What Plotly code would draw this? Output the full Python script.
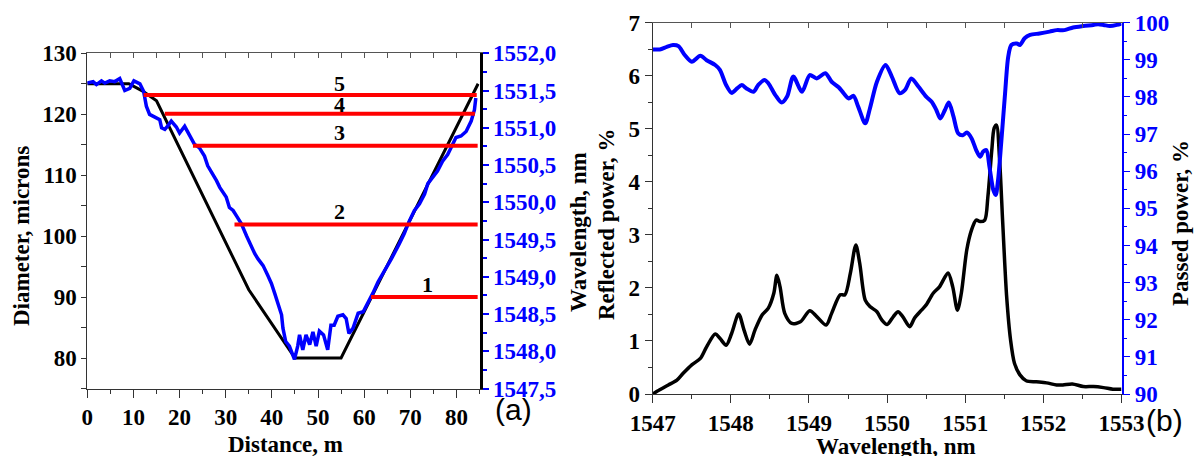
import plotly.graph_objects as go

# ---------------- Panel (a) data ----------------
dist_black = [0, 9, 12, 15, 35, 45, 55, 84.7]
diam_black = [125, 125, 123.8, 122.2, 91.2, 80, 80, 125]

dist_blue = [0, 1.26, 1.98, 3.07, 3.79, 4.87, 5.95, 7.03, 8.12, 9.2, 10.1, 11.4, 12.2, 12.8,
             13.5, 14.6, 15.7, 16.1, 16.8, 17.5, 18.2, 19.3, 20.0, 21.1, 22.2, 23.2, 24.3,
             25.4, 26.1, 27.2, 28.0, 28.7, 29.4, 30.1, 30.8, 31.6, 32.3, 33.4, 34.5, 35.5,
             36.3, 37.0, 38.1, 39.1, 39.9, 40.6, 41.3, 42.1, 42.4, 43.0, 43.8, 44.9, 45.6,
             46.0, 46.7, 47.4, 48.2, 48.9, 49.6, 50.3, 51.2, 52.1, 52.8, 53.5, 54.3, 55.4,
             56.1, 56.7, 57.6, 58.7, 59.8, 60.8, 61.9, 63.0, 64.4, 65.9, 67.6, 68.7, 69.8,
             70.9, 72.0, 73.1, 73.8, 74.8, 75.9, 77.0, 78.1, 78.8, 79.9, 81.0, 82.1, 83.2,
             83.9, 84.2]
wl_blue = [1551.60, 1551.62, 1551.58, 1551.63, 1551.60, 1551.63, 1551.62, 1551.66, 1551.50,
           1551.53, 1551.63, 1551.59, 1551.49, 1551.29, 1551.18, 1551.15, 1551.11, 1551.00,
           1550.98, 1551.03, 1551.09, 1551.01, 1550.93, 1551.02, 1550.89, 1550.78, 1550.73,
           1550.62, 1550.49, 1550.38, 1550.29, 1550.20, 1550.13, 1550.07, 1549.93, 1549.89,
           1549.82, 1549.71, 1549.55, 1549.40, 1549.31, 1549.24, 1549.15, 1549.02, 1548.91,
           1548.78, 1548.64, 1548.49, 1548.31, 1548.13, 1548.07, 1547.89, 1548.07, 1548.22,
           1548.02, 1548.22, 1548.09, 1548.26, 1548.07, 1548.27, 1548.22, 1548.02, 1548.35,
           1548.35, 1548.47, 1548.49, 1548.44, 1548.24, 1548.31, 1548.51, 1548.53, 1548.64,
           1548.78, 1548.93, 1549.07, 1549.24, 1549.44, 1549.58, 1549.75, 1549.89, 1549.98,
           1550.11, 1550.25, 1550.33, 1550.42, 1550.55, 1550.64, 1550.73, 1550.87, 1550.89,
           1550.95, 1551.09, 1551.24, 1551.40]

red_levels = [1548.73, 1549.70, 1550.76, 1551.19, 1551.44]
red_start = [61.5, 31.9, 22.9, 16.8, 12.2]
red_end = [84.6, 84.6, 84.6, 84.0, 84.4]
red_names = ["1", "2", "3", "4", "5"]
red_label_x = [73.8, 54.7, 54.7, 54.7, 54.7]
red_label_wl = [1548.90, 1549.87, 1550.93, 1551.31, 1551.59]

dist_ticks = [0, 10, 20, 30, 40, 50, 60, 70, 80]
diam_ticks = [80, 90, 100, 110, 120, 130]
wl_ticks = [1547.5, 1548.0, 1548.5, 1549.0, 1549.5, 1550.0, 1550.5, 1551.0, 1551.5, 1552.0]
wl_ticklabels = ["1547,5", "1548,0", "1548,5", "1549,0", "1549,5", "1550,0",
                 "1550,5", "1551,0", "1551,5", "1552,0"]

# ---------------- Panel (b) data ----------------
refl_wl = [1547.0, 1547.09, 1547.2, 1547.31, 1547.39, 1547.5, 1547.61, 1547.69, 1547.8, 1547.86,
           1547.94, 1548.01, 1548.1, 1548.17, 1548.24, 1548.31, 1548.4, 1548.48, 1548.55, 1548.59,
           1548.63, 1548.69, 1548.78, 1548.89, 1549.01, 1549.1, 1549.22, 1549.29, 1549.4, 1549.46,
           1549.53, 1549.6, 1549.65, 1549.72, 1549.78, 1549.87, 1549.93, 1550.0, 1550.08, 1550.14,
           1550.2, 1550.29, 1550.35, 1550.44, 1550.5, 1550.59, 1550.67, 1550.78, 1550.84, 1550.9,
           1550.95, 1551.02, 1551.08, 1551.14, 1551.19, 1551.25, 1551.29, 1551.34, 1551.37, 1551.4,
           1551.44, 1551.48, 1551.53, 1551.58, 1551.63, 1551.7, 1551.78, 1551.91, 1552.04, 1552.17,
           1552.25, 1552.37, 1552.51, 1552.64, 1552.77, 1552.89, 1553.0]
refl_power = [0.0, 0.08, 0.17, 0.26, 0.39, 0.55, 0.67, 0.89, 1.13, 1.05,
              0.92, 1.14, 1.51, 1.2, 0.94, 1.21, 1.49, 1.62, 1.9, 2.24,
              2.02, 1.52, 1.33, 1.36, 1.57, 1.46, 1.3, 1.52, 1.87, 1.87,
              2.28, 2.81, 2.46, 1.77, 1.65, 1.55, 1.40, 1.31, 1.46, 1.55,
              1.46, 1.27, 1.43, 1.58, 1.68, 1.9, 2.02, 2.28, 2.02, 1.58,
              1.9, 2.72, 3.09, 3.28, 3.25, 3.28, 3.72, 4.6, 5.01, 5.07,
              4.41, 3.22, 1.84, 1.02, 0.58, 0.36, 0.25, 0.23, 0.21, 0.17,
              0.17, 0.19, 0.14, 0.14, 0.12, 0.09, 0.09]

pass_wl = [1547.0, 1547.09, 1547.18, 1547.26, 1547.33, 1547.41, 1547.5, 1547.61, 1547.69, 1547.8,
           1547.86, 1547.94, 1548.01, 1548.08, 1548.14, 1548.2, 1548.29, 1548.35, 1548.43, 1548.48,
           1548.57, 1548.65, 1548.72, 1548.8, 1548.91, 1549.01, 1549.1, 1549.21, 1549.29, 1549.38,
           1549.44, 1549.51, 1549.57, 1549.63, 1549.72, 1549.78, 1549.87, 1549.98, 1550.06, 1550.16,
           1550.23, 1550.31, 1550.4, 1550.5, 1550.57, 1550.63, 1550.68, 1550.74, 1550.79, 1550.85,
           1550.91, 1550.97, 1551.02, 1551.08, 1551.14, 1551.19, 1551.23, 1551.27, 1551.31, 1551.36,
           1551.39, 1551.42, 1551.46, 1551.51, 1551.55, 1551.59, 1551.66, 1551.7, 1551.76, 1551.83,
           1551.95, 1552.08, 1552.17, 1552.27, 1552.38, 1552.51, 1552.64, 1552.7, 1552.77, 1552.85,
           1552.94, 1553.0]
pass_power = [99.28, 99.28, 99.35, 99.40, 99.37, 99.13, 98.95, 99.11, 98.99, 98.86,
              98.73, 98.32, 98.11, 98.23, 98.32, 98.23, 98.14, 98.32, 98.46, 98.37,
              98.05, 97.85, 98.01, 98.55, 98.14, 98.59, 98.50, 98.64, 98.41, 98.26,
              98.11, 97.96, 98.03, 97.74, 97.29, 97.69, 98.41, 98.86, 98.55, 98.10,
              98.19, 98.50, 98.28, 98.01, 97.87, 97.65, 97.42, 97.65, 97.85, 97.47,
              97.02, 96.97, 97.04, 96.89, 96.57, 96.39, 96.53, 96.57, 96.12, 95.49,
              95.36, 95.76, 96.75, 98.10, 99.08, 99.40, 99.44, 99.40, 99.58, 99.67,
              99.71, 99.76, 99.80, 99.80, 99.87, 99.91, 99.94, 99.96, 99.94, 99.91,
              99.94, 99.98]

lam_ticks = [1547, 1548, 1549, 1550, 1551, 1552, 1553]
refl_ticks = [0, 1, 2, 3, 4, 5, 6, 7]
pass_ticks = [90, 91, 92, 93, 94, 95, 96, 97, 98, 99, 100]

# ---------------- Layout helpers ----------------
W, H = 1195, 456
def px(x):
    return x / W
def py(y):
    return 1 - y / H

SERIF = "Liberation Serif"
BLUE = "#0000FF"
tickfont = dict(family=SERIF, size=23, color="black", weight="bold")
bluefont = dict(family=SERIF, size=23, color=BLUE, weight="bold")

fig = go.Figure()

# Panel (a)
fig.add_trace(go.Scatter(x=dist_black, y=diam_black, mode="lines", xaxis="x", yaxis="y",
                         line=dict(color="black", width=3), showlegend=False, hoverinfo="skip"))
fig.add_trace(go.Scatter(x=dist_black, y=diam_black, mode="lines", xaxis="x5", yaxis="y",
                         line=dict(color="rgba(0,0,0,0)", width=0), showlegend=False, hoverinfo="skip"))
fig.add_trace(go.Scatter(x=dist_blue, y=wl_blue, mode="lines", xaxis="x", yaxis="y2",
                         line=dict(color=BLUE, width=3.5), showlegend=False))
for lv, s, e in zip(red_levels, red_start, red_end):
    fig.add_trace(go.Scatter(x=[s, e], y=[lv, lv], mode="lines", xaxis="x", yaxis="y2",
                             line=dict(color="#FF0000", width=4), showlegend=False))

# Panel (b)
fig.add_trace(go.Scatter(x=refl_wl, y=refl_power, mode="lines", xaxis="x3", yaxis="y3",
                         line=dict(color="black", width=3.5, shape="spline", smoothing=0.8),
                         showlegend=False))
fig.add_trace(go.Scatter(x=refl_wl, y=refl_power, mode="lines", xaxis="x6", yaxis="y3",
                         line=dict(color="rgba(0,0,0,0)", width=0), showlegend=False, hoverinfo="skip"))
fig.add_trace(go.Scatter(x=pass_wl, y=pass_power, mode="lines", xaxis="x3", yaxis="y4",
                         line=dict(color=BLUE, width=4, shape="spline", smoothing=0.8),
                         showlegend=False))

axis_common = dict(showgrid=False, zeroline=False, automargin=False, showline=True)

xa_dom = [px(87.3), px(479.5)]
ya_dom = [py(388.5), py(53.3)]
xb_dom = [px(652.7), px(1121.5)]
yb_dom = [py(394), py(22.7)]

fig.update_layout(
    width=W, height=H, margin=dict(l=0, r=0, t=0, b=0),
    paper_bgcolor="white", plot_bgcolor="white",
    xaxis=dict(**axis_common, domain=xa_dom, range=[0, 85], anchor="y",
               tickmode="array", tickvals=dist_ticks, ticks="outside", ticklen=8, tickwidth=1,
               tickcolor="#333", linecolor="#333", linewidth=1, tickfont=tickfont,
               minor=dict(dtick=5, tick0=0, ticks="outside", ticklen=4, tickcolor="#333")),
    xaxis5=dict(**axis_common, overlaying="x", side="top", anchor="y", range=[0, 85],
                tickmode="linear", tick0=0, dtick=5, ticks="inside", ticklen=5,
                tickcolor="#555", linecolor="#555", linewidth=1, showticklabels=False),
    yaxis=dict(**axis_common, domain=ya_dom, range=[75, 130], anchor="x",
               tickmode="array", tickvals=diam_ticks, ticks="outside", ticklen=5,
               tickcolor="#333", linecolor="#333", linewidth=1, tickfont=tickfont,
               minor=dict(dtick=5, tick0=75, ticks="outside", ticklen=5, tickcolor="#333")),
    yaxis2=dict(**axis_common, overlaying="y", side="right", anchor="x", range=[1547.5, 1552.0],
                tickmode="array", tickvals=wl_ticks, ticktext=wl_ticklabels, ticks="outside",
                ticklen=6, tickwidth=1.5, tickcolor=BLUE, linecolor="black", linewidth=3,
                tickfont=bluefont,
                minor=dict(dtick=0.25, tick0=1547.5, ticks="outside", ticklen=4, tickcolor=BLUE)),
    xaxis3=dict(**axis_common, domain=xb_dom, range=[1547, 1553], anchor="y3",
                tickmode="array", tickvals=lam_ticks, ticks="outside", ticklen=8,
                tickcolor="#333", linecolor="#333", linewidth=1, tickfont=tickfont,
                minor=dict(dtick=0.5, tick0=1547, ticks="outside", ticklen=4, tickcolor="#333")),
    xaxis6=dict(**axis_common, overlaying="x3", side="top", anchor="y3", range=[1547, 1553],
                tickmode="linear", tick0=1547, dtick=0.5, ticks="inside", ticklen=5,
                tickcolor="#555", linecolor="#555", linewidth=1, showticklabels=False),
    yaxis3=dict(**axis_common, domain=yb_dom, range=[0, 7], anchor="x3",
                tickmode="array", tickvals=refl_ticks, ticks="outside", ticklen=7,
                tickcolor="#333", linecolor="#333", linewidth=1, tickfont=tickfont,
                minor=dict(dtick=0.5, tick0=0, ticks="outside", ticklen=4, tickcolor="#333")),
    yaxis4=dict(**axis_common, overlaying="y3", side="right", anchor="x3", range=[90, 100],
                tickmode="array", tickvals=pass_ticks, ticks="outside", ticklen=7,
                tickcolor=BLUE, linecolor=BLUE, linewidth=1.5, tickfont=bluefont,
                minor=dict(dtick=0.5, tick0=90, ticks="outside", ticklen=4, tickcolor=BLUE)),
)

annotations = []
titlefont = dict(family=SERIF, size=23, color="black", weight="bold")
def paper_text(text, x, y, angle=0, font=titlefont):
    annotations.append(dict(text=text, x=px(x), y=py(y), xref="paper", yref="paper",
                            showarrow=False, textangle=angle, font=font,
                            xanchor="center", yanchor="middle"))

paper_text("Diameter, microns", 21, 236, -90)
paper_text("Distance, m", 285, 444)
paper_text("Wavelength, nm", 578, 232, -90)
paper_text("Reflected power, %", 606, 224, -90)
paper_text("Passed power, %", 1180, 223, -90)
paper_text("Wavelength, nm", 896, 446)
paper_text("(a)", 513, 409, 0, dict(family="Liberation Sans", size=30, color="black"))
paper_text("(b)", 1164, 420, 0, dict(family="Liberation Sans", size=30, color="black"))

for name, lx, lw in zip(red_names, red_label_x, red_label_wl):
    annotations.append(dict(text=name, x=lx, y=lw, xref="x", yref="y2", showarrow=False,
                            font=dict(family=SERIF, size=22, color="black", weight="bold"),
                            xanchor="center", yanchor="middle"))

fig.update_layout(annotations=annotations)
fig.write_html("out.html", config={"displayModeBar": False},
               post_script="document.body.style.margin='0px';document.body.style.padding='0px';"
                           "document.body.style.overflow='hidden';")
